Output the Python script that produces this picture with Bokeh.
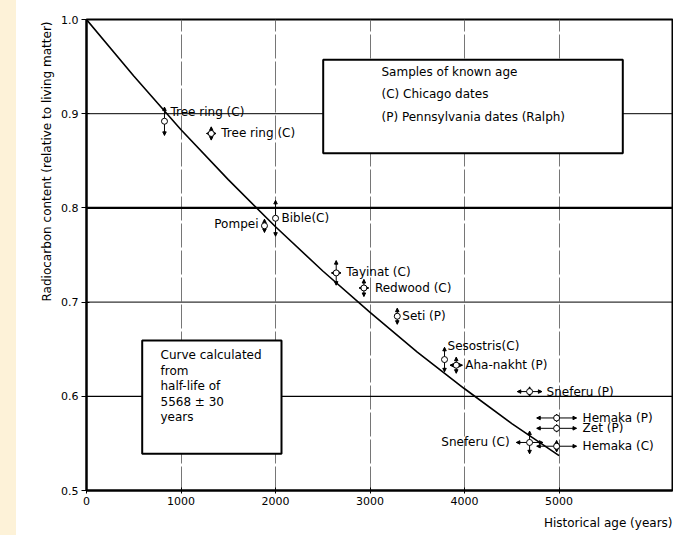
import numpy as np
from bokeh.plotting import figure
from bokeh.layouts import row
from bokeh.models import (ColumnDataSource, Whisker, NormalHead, Title, Div,
                          FixedTicker, Range1d, PrintfTickFormatter)
from bokeh.embed import file_html
from bokeh.resources import INLINE
from bokeh.core.properties import value

# ---------------- data ----------------
curve_years = [0, 500, 1000, 1500, 2000, 2500, 3000, 3500, 4000, 4500, 5000]
curve_content = [1.000, 0.940, 0.883, 0.830, 0.780, 0.733, 0.689, 0.647, 0.608, 0.571, 0.537]

sample_names = ["Tree ring (C)", "Tree ring (C)", "Pompei", "Bible(C)", "Tayinat (C)",
                "Redwood (C)", "Seti (P)", "Sesostris(C)", "Aha-nakht (P)", "Sneferu (P)",
                "Hemaka (P)", "Zet (P)", "Sneferu (C)", "Hemaka (C)"]
sample_age = [825, 1320, 1883, 2000, 2642, 2935, 3288, 3788, 3912, 4688, 4974, 4974, 4688, 4974]
sample_content = [0.892, 0.879, 0.781, 0.789, 0.731, 0.715, 0.685, 0.639, 0.633, 0.605,
                  0.577, 0.566, 0.551, 0.547]
content_err = [0.015, 0.007, 0.007, 0.019, 0.013, 0.009, 0.0085, 0.013, 0.0085, 0.005,
               0.004, 0.004, 0.012, 0.006]
age_err = [0, 50, 0, 0, 50, 50, 0, 0, 65, 130, 210, 210, 140, 210]

x_ticks = [0, 1000, 2000, 3000, 4000, 5000]
y_ticks = [0.5, 0.6, 0.7, 0.8, 0.9, 1.0]
ref_levels = [0.9, 0.8, 0.7, 0.6]

legend_lines = ["Samples of known age", "(C) Chicago dates", "(P) Pennsylvania dates (Ralph)"]
note_lines = ["Curve calculated", "from", "half-life of", "5568 \u00b1 30", "years"]

# ---------------- layout / style ----------------
STRIP_W = 16
X_MAX = 6200.0
FRAME_W, FRAME_H = 586, 471
XPX = X_MAX / FRAME_W          # years per pixel
YPX = 0.5 / FRAME_H            # content per pixel
FONT = "DejaVu Sans"
FS = "12px"

def px_to_y(py):               # page pixel row -> data y
    return 1.0 - (py - 19) * YPX

def px_to_x(px):               # page pixel column -> data x
    return (px - 86) * XPX

label_dx = [6, 10, -6, 6, 10, 11, 5, 3, 9, 17, 26, 26, -20, 26]
label_dy = [-9, 0, -2, 0, -1, 0, 0, -14, 0, 0, 0, 0, 0, 0]
label_align = ["left", "left", "right", "left", "left", "left", "left", "left", "left",
               "left", "left", "left", "right", "left"]

p = figure(width=673 - STRIP_W, height=535, x_range=Range1d(0, X_MAX), y_range=Range1d(0.5, 1.0),
           output_backend="svg", toolbar_location=None, title=None, margin=0,
           min_border_left=86 - STRIP_W, min_border_right=1, min_border_top=19,
           min_border_bottom=45)
p.background_fill_color = "white"
p.border_fill_color = "white"
p.outline_line_color = "black"
p.outline_line_width = 2

# axes
for ax in (p.xaxis, p.yaxis):
    ax.axis_line_width = 2
    ax.axis_line_color = "black"
    ax.major_label_text_font = FONT
    ax.major_label_text_font_size = "11px"
    ax.major_label_text_color = "black"
    ax.minor_tick_line_color = None
    ax.major_tick_line_color = "black"
p.xaxis.ticker = FixedTicker(ticks=x_ticks)
p.yaxis.ticker = FixedTicker(ticks=y_ticks)
p.yaxis.formatter = PrintfTickFormatter(format="%.1f")
p.xaxis.major_tick_out = 3
p.xaxis.major_tick_in = 3
p.xaxis.major_label_standoff = 3
p.yaxis.major_tick_out = 5
p.yaxis.major_tick_in = 3
p.yaxis.major_label_standoff = 3

# grid: vertical thin broken lines
p.xgrid.ticker = FixedTicker(ticks=x_ticks[1:])
p.xgrid.grid_line_color = "#666666"
p.xgrid.grid_line_width = 0.9
p.xgrid.grid_line_dash = "24 3"
p.ygrid.visible = False

# horizontal reference lines
p.segment(x0=[0] * len(ref_levels), x1=[X_MAX] * len(ref_levels), y0=ref_levels, y1=ref_levels,
          line_color="black", line_width=[1, 2.2, 1, 1.3])

# boxes
p.quad(left=[px_to_x(322.7), px_to_x(141.7)], right=[px_to_x(622.3), px_to_x(281)],
       top=[px_to_y(59.3), px_to_y(340)], bottom=[px_to_y(152.7), px_to_y(453.3)],
       fill_color="white", line_color="black", line_width=2)

p.text(x=[px_to_x(381)] * 3, y=[px_to_y(v) for v in (71, 93.3, 116.7)], text=legend_lines,
       text_font=value(FONT), text_font_size=FS, text_baseline="middle", text_align="left",
       text_color="black")
p.text(x=[px_to_x(160)] * 5, y=[px_to_y(v) for v in (354.3, 370, 385.3, 401.7, 416)],
       text=note_lines, text_font=value(FONT), text_font_size=FS, text_baseline="middle",
       text_align="left", text_color="black")

# calculated curve
p.line(curve_years, curve_content, line_color="black", line_width=1.6)

# error bars
head = dict(size=3.5, fill_color="black", line_color="black", line_width=1)
vsrc = ColumnDataSource(dict(
    age=sample_age,
    lo=[c - e for c, e in zip(sample_content, content_err)],
    hi=[c + e for c, e in zip(sample_content, content_err)]))
p.add_layout(Whisker(source=vsrc, base="age", lower="lo", upper="hi", dimension="height",
                     line_color="black", line_width=1,
                     lower_head=NormalHead(**head), upper_head=NormalHead(**head)))
hidx = [i for i, e in enumerate(age_err) if e > 0]
hsrc = ColumnDataSource(dict(
    c=[sample_content[i] for i in hidx],
    lo=[sample_age[i] - age_err[i] for i in hidx],
    hi=[sample_age[i] + age_err[i] for i in hidx]))
p.add_layout(Whisker(source=hsrc, base="c", lower="lo", upper="hi", dimension="width",
                     line_color="black", line_width=1,
                     lower_head=NormalHead(**head), upper_head=NormalHead(**head)))

# sample points
p.scatter(sample_age, sample_content, marker="circle", size=6, fill_color="white",
          line_color="black", line_width=1)

# sample labels
lsrc = ColumnDataSource(dict(
    x=[a + dx * XPX for a, dx in zip(sample_age, label_dx)],
    y=[c - dy * YPX for c, dy in zip(sample_content, label_dy)],
    t=sample_names, align=label_align))
p.text(x="x", y="y", text="t", text_align="align", text_baseline="middle",
       text_font=value(FONT), text_font_size=FS, text_color="black", source=lsrc)

# axis titles
p.add_layout(Title(text="Radiocarbon content (relative to living matter)", align="right",
                   text_font=FONT, text_font_size=FS, text_font_style="normal",
                   text_color="black", offset=2), "left")
p.add_layout(Title(text="Historical age (years)", align="right", standoff=12,
                   text_font=FONT, text_font_size=FS, text_font_style="normal",
                   text_color="black"), "below")

strip = Div(width=STRIP_W, height=535, margin=0, styles={"background-color": "#fdf2d8"})
layout = row(strip, p, spacing=0, margin=0)

open("out.html", "w").write(file_html(layout, INLINE))
